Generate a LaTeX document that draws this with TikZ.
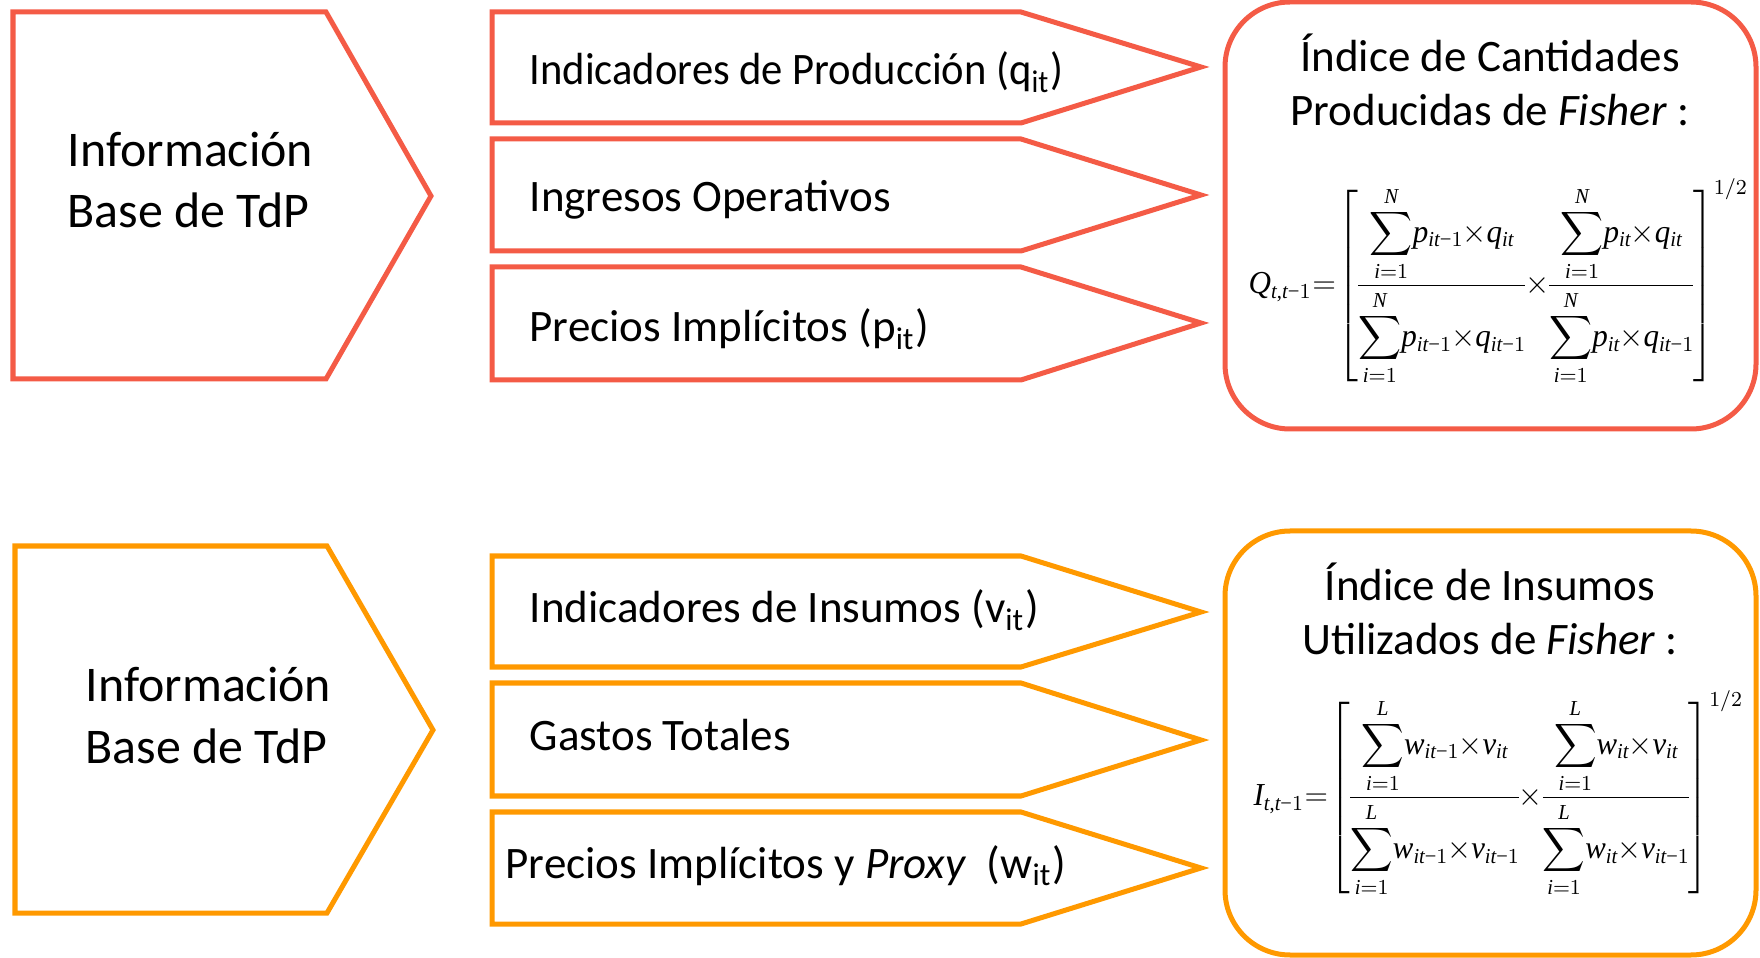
\documentclass[tikz,border=0pt]{standalone}
\usepackage{amsmath}
\usepackage{graphicx}
\usepackage{fontspec}
\setmainfont{Carlito}
\newfontfamily\timesfam{Liberation Serif}[NFSSFamily=libserif]
\DeclareSymbolFont{timesit}{TU}{libserif}{m}{it}
\DeclareSymbolFont{timesup}{TU}{libserif}{m}{n}
\DeclareMathSymbol{Q}{\mathalpha}{timesit}{`Q}
\DeclareMathSymbol{I}{\mathalpha}{timesit}{`I}
\DeclareMathSymbol{N}{\mathalpha}{timesit}{`N}
\DeclareMathSymbol{L}{\mathalpha}{timesit}{`L}
\DeclareMathSymbol{t}{\mathalpha}{timesit}{`t}
\DeclareMathSymbol{i}{\mathalpha}{timesit}{`i}
\DeclareMathSymbol{p}{\mathalpha}{timesit}{`p}
\DeclareMathSymbol{q}{\mathalpha}{timesit}{`q}
\DeclareMathSymbol{w}{\mathalpha}{timesit}{`w}
\DeclareMathSymbol{v}{\mathalpha}{timesit}{`v}
\DeclareMathSymbol{1}{\mathalpha}{timesup}{`1}
\DeclareMathSymbol{2}{\mathalpha}{timesup}{`2}
\DeclareMathSymbol{/}{\mathord}{timesup}{`/}
\DeclareMathSymbol{,}{\mathpunct}{timesup}{`,}
\Umathcode`\-="2 \symtimesup "2212\relax
\usepackage{tikz}
\usetikzlibrary{positioning}
\definecolor{tdpred}{HTML}{F45B46}
\definecolor{tdporange}{HTML}{FF9900}
\newcommand{\bigsum}{\mathop{\vcenter{\hbox{\scalebox{0.96}{$\displaystyle\sum$}}}}}
\newcommand{\fsum}[1]{\displaystyle\bigsum_{i=1}^{#1}\mkern-3mu}
\newcommand{\tms}{\times}
\newcommand{\tightmath}{\medmuskip=0mu\relax\thickmuskip=1mu\relax\nulldelimiterspace=0pt\relax\scriptspace=0pt\relax}
\tikzset{
  redline/.style={draw=tdpred, line width=0.05cm},
  orangeline/.style={draw=tdporange, line width=0.05cm},
  bigtext/.style={font=\fontsize{14.2}{17.35}\selectfont, align=left, anchor=base west, inner sep=0pt},
  boxtext/.style={font=\fontsize{12.8}{15.36}\selectfont, anchor=base west, inner sep=0pt},
  titletext/.style={font=\fontsize{12.8}{15.36}\selectfont, align=center, anchor=base, inner sep=0pt},
  formula/.style={anchor=west, inner sep=0pt, font=\fontsize{12}{14}\selectfont}
}

\begin{document}
\begin{tikzpicture}[x=0.01cm, y=-0.01cm]
\useasboundingbox (0,0) rectangle (1760,958);
% Produccion
\draw[redline] (13,12) -- (326,12) -- (431,196) -- (326,379) -- (13,379) -- cycle;
\node[bigtext] (infoQ) at (67,228) {Información\\Base de TdP};
\draw[redline] (492,12) -- (1021,12) -- (1201,67) -- (1021,123) -- (492,123) -- cycle;
\draw[redline] (492,139) -- (1021,139) -- (1201,195) -- (1021,251) -- (492,251) -- cycle;
\draw[redline] (492,267) -- (1021,267) -- (1201,323) -- (1021,380) -- (492,380) -- cycle;
\node[boxtext] (cant) at (529,85) {\scalebox{0.946}[1]{Indicadores de Producción (q\textsubscript{it})}};
\node[boxtext] (ingr) at (529,212) {Ingresos Operativos};
\node[boxtext] (prec) at (529,342) {Precios Implícitos (p\textsubscript{it})};
\draw[redline, rounded corners=0.65cm] (1225,2) rectangle (1756,429);
\node[titletext] (titleQ) at (1490,126) {Índice de Cantidades\\Producidas de \textit{Fisher} :};
\node[formula] (fisherQ) at (1248,282) {\resizebox*{4.98cm}{2.07cm}{$\tightmath\displaystyle Q_{t,t-1}=\left[\frac{\fsum{N}p_{it-1}\tms q_{it}}{\fsum{N}p_{it-1}\tms q_{it-1}}\tms\frac{\fsum{N}p_{it}\tms q_{it}}{\fsum{N}p_{it}\tms q_{it-1}}\right]^{1/2}$}};
% Insumos
\draw[orangeline] (15,546) -- (327,546) -- (433,730) -- (327,913) -- (15,913) -- cycle;
\node[bigtext] (infoI) at (85,763) {Información\\Base de TdP};
\draw[orangeline] (492,556) -- (1021,556) -- (1201,612) -- (1021,667) -- (492,667) -- cycle;
\draw[orangeline] (492,683) -- (1021,683) -- (1201,740) -- (1021,796) -- (492,796) -- cycle;
\draw[orangeline] (492,812) -- (1021,812) -- (1201,868) -- (1021,924) -- (492,924) -- cycle;
\node[boxtext] (insu) at (529,623) {Indicadores de Insumos (v\textsubscript{it})};
\node[boxtext] (gast) at (529,751) {Gastos Totales};
\node[boxtext] (prox) at (505,878) {Precios Implícitos y \textit{Proxy}\ \ (w\textsubscript{it})};
\draw[orangeline, rounded corners=0.65cm] (1225,531) rectangle (1756,955);
\node[titletext] (titleI) at (1490,655) {Índice de Insumos\\Utilizados de \textit{Fisher} :};
\node[formula] (fisherI) at (1253,794) {\resizebox*{4.88cm}{2.07cm}{$\tightmath\displaystyle I_{t,t-1}=\left[\frac{\fsum{L}w_{it-1}\tms v_{it}}{\fsum{L}w_{it-1}\tms v_{it-1}}\tms\frac{\fsum{L}w_{it}\tms v_{it}}{\fsum{L}w_{it}\tms v_{it-1}}\right]^{1/2}$}};
\end{tikzpicture}
\end{document}
